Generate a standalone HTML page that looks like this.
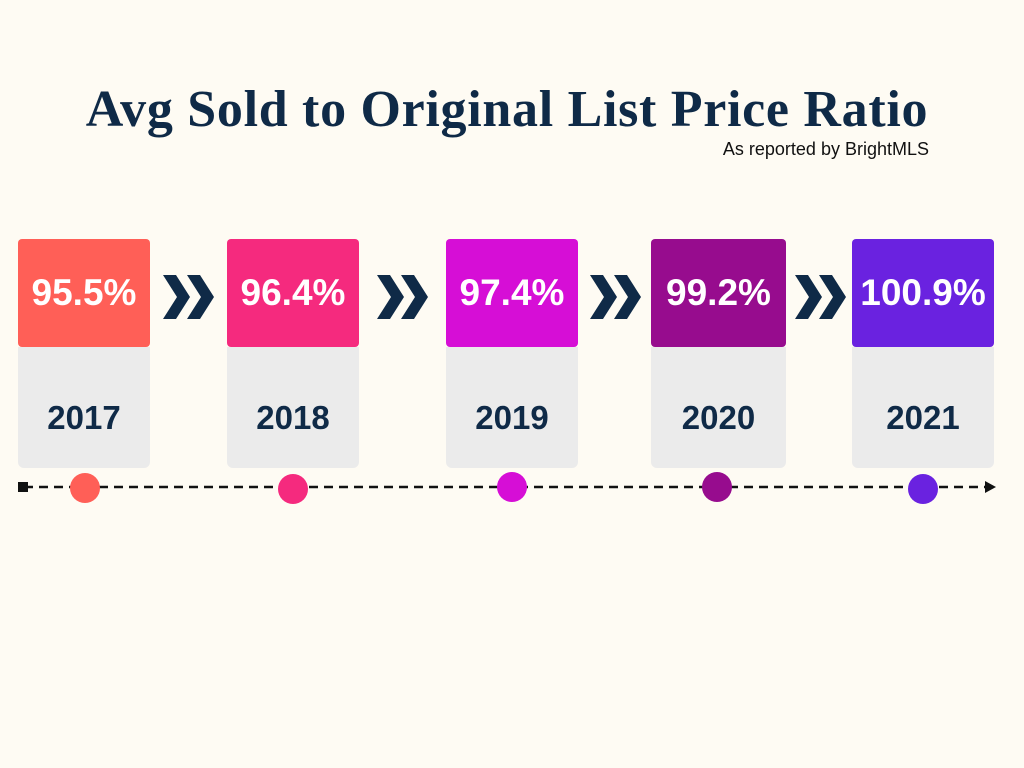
<!DOCTYPE html>
<html>
<head>
<meta charset="utf-8">
<style>
  html,body{margin:0;padding:0;}
  body{width:1024px;height:768px;background:#fefbf3;position:relative;overflow:hidden;font-family:"Liberation Sans",sans-serif;}
  #title{position:absolute;left:0;width:1014px;top:80px;text-align:center;font-family:"Liberation Serif",serif;font-weight:bold;font-size:52px;color:#0f2a47;letter-spacing:0.7px;}
  #subtitle{position:absolute;right:95px;top:139px;font-size:18px;color:#111;}
  .top{position:absolute;top:239px;height:108px;border-radius:4px;color:#fff;font-weight:bold;font-size:37px;display:flex;align-items:center;justify-content:center;}
  .bot{position:absolute;top:347px;height:121px;background:#ebebeb;border-radius:0 0 6px 6px;color:#0f2a47;font-weight:bold;font-size:33px;display:flex;align-items:center;justify-content:center;padding-top:20px;box-sizing:border-box;}
  svg{position:absolute;left:0;top:0;}
</style>
</head>
<body>
<div id="title">Avg Sold to Original List Price Ratio</div>
<div id="subtitle">As reported by BrightMLS</div>
<svg id="tl" width="1024" height="768"></svg>
<script>
const years = ["2017","2018","2019","2020","2021"];
const ratios = [95.5, 96.4, 97.4, 99.2, 100.9];
const colors = ["#ff5f57","#f52a7e","#d60ed6","#970c8e","#6a22e0"];
// layout only
const boxLeft = [18,227,446,651,852];
const boxWidth = [132,132,132,135,142];
const dotX = [85,293,512,717,923];
const dotY = [488,489,487,487,489];
const chevX = [163,377,590,795];

const ns="http://www.w3.org/2000/svg";
const svg=document.getElementById('tl');
const line=document.createElementNS(ns,'line');
line.setAttribute('x1',24);line.setAttribute('x2',990);line.setAttribute('y1',487);line.setAttribute('y2',487);
line.setAttribute('stroke','#111');line.setAttribute('stroke-width',2.5);line.setAttribute('stroke-dasharray','9 6');


svg.appendChild(line);
const sq=document.createElementNS(ns,'rect');
sq.setAttribute('x',18);sq.setAttribute('y',482);sq.setAttribute('width',10);sq.setAttribute('height',10);sq.setAttribute('fill','#111');


svg.appendChild(sq);
const ar=document.createElementNS(ns,'path');
ar.setAttribute('d','M985 481 L996 487 L985 493 Z');ar.setAttribute('fill','#111');


svg.appendChild(ar);

chevX.forEach(x=>{
  [0,24].forEach(o=>{
    const p=document.createElementNS(ns,'path');
    p.setAttribute('d',`M${x+o} 275 L${x+o+13} 275 L${x+o+27} 297 L${x+o+13} 319 L${x+o} 319 L${x+o+14} 297 Z`);
    p.setAttribute('fill','#0f2a47');
    
    
    svg.appendChild(p);
  });
});

years.forEach((y,i)=>{
  const b=document.createElement('div');
  b.className='bot';
  b.style.left=boxLeft[i]+'px';b.style.width=boxWidth[i]+'px';
  b.textContent=y;
  
  
  document.body.appendChild(b);
  const t=document.createElement('div');
  t.className='top';
  t.style.left=boxLeft[i]+'px';t.style.width=boxWidth[i]+'px';t.style.background=colors[i];
  t.textContent=ratios[i].toFixed(1)+'%';
  
  
  document.body.appendChild(t);
  const c=document.createElementNS(ns,'circle');
  c.setAttribute('cx',dotX[i]);c.setAttribute('cy',dotY[i]);c.setAttribute('r',15);c.setAttribute('fill',colors[i]);
  
  
  svg.appendChild(c);
});
</script>
</body>
</html>
